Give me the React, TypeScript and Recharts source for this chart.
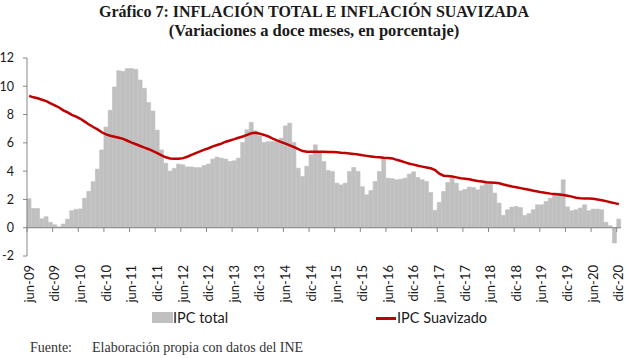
import React from "react";
import {
  ComposedChart,
  Bar,
  Line,
  XAxis,
  YAxis,
  ReferenceLine,
} from "recharts";

// meses en español y rango de la serie (jun-09 a dic-20)
const MONTHS = ["ene", "feb", "mar", "abr", "may", "jun", "jul", "ago", "sep", "oct", "nov", "dic"];
const START_YEAR = 2009;
const START_MONTH = 5; // jun
const N_MONTHS = 139;

const categories: string[] = Array.from({ length: N_MONTHS }, (_, i) => {
  const m = START_MONTH + i;
  const yy = String((START_YEAR + Math.floor(m / 12)) % 100).padStart(2, "0");
  return `${MONTHS[m % 12]}-${yy}`;
});

// IPC total, variación a doce meses (%)
const ipcTotal = [
  2.05, 1.36, 1.36, 0.63, 0.78, 0.38, 0.21, // 2009 jun-dic
  0.07, 0.26, 0.61, 1.2, 1.3, 1.33, 2.09, 2.57, 3.25, 4.14, 5.5, 7.12, // 2010
  8.3, 9.95, 11.1, 11.05, 11.25, 11.25, 11.2, 10.44, 9.86, 8.85, 8.25, 6.9, // 2011
  5.5, 4.56, 4.0, 4.2, 4.5, 4.45, 4.3, 4.3, 4.25, 4.25, 4.4, 4.5, // 2012
  4.85, 4.99, 4.92, 4.85, 4.68, 4.73, 4.92, 6.02, 6.92, 7.45, 6.85, 6.49, // 2013
  6.02, 6.09, 6.09, 6.09, 6.33, 7.2, 7.39, 6.02, 4.21, 3.62, 4.35, 5.15, // 2014
  5.86, 5.34, 4.68, 4.05, 3.98, 3.15, 3.03, 3.15, 3.98, 4.26, 3.98, 2.9, // 2015
  2.33, 2.63, 3.27, 3.98, 4.95, 3.5, 3.47, 3.39, 3.43, 3.5, 3.79, 3.95, // 2016
  3.55, 3.39, 3.27, 2.49, 1.22, 1.79, 2.56, 3.2, 3.5, 3.15, 2.61, 2.7, // 2017
  2.87, 2.84, 2.68, 2.96, 3.15, 3.15, 2.45, 1.74, 0.87, 1.27, 1.46, 1.5, // 2018
  1.42, 0.86, 1.0, 1.27, 1.62, 1.62, 1.86, 2.09, 2.4, 2.45, 3.39, 1.47, // 2019
  1.2, 1.27, 1.39, 1.62, 1.2, 1.32, 1.32, 1.27, 0.38, 0.14, -1.08, 0.61, // 2020
];

// IPC suavizado (%)
const ipcSuavizado = [
  9.32, 9.22, 9.15, 9.05, 8.95, 8.8, 8.65, // 2009 jun-dic
  8.5, 8.3, 8.15, 7.98, 7.85, 7.7, 7.5, 7.3, 7.12, 6.95, 6.75, 6.6, // 2010
  6.5, 6.43, 6.36, 6.28, 6.15, 6.02, 5.9, 5.78, 5.66, 5.55, 5.42, 5.28, // 2011
  5.12, 4.98, 4.9, 4.88, 4.87, 4.92, 5.02, 5.15, 5.28, 5.4, 5.52, 5.62, // 2012
  5.75, 5.85, 5.95, 6.08, 6.17, 6.26, 6.36, 6.45, 6.56, 6.68, 6.72, 6.65, // 2013
  6.56, 6.45, 6.3, 6.18, 6.05, 5.95, 5.82, 5.7, 5.55, 5.42, 5.38, 5.38, // 2014
  5.38, 5.38, 5.37, 5.36, 5.35, 5.33, 5.3, 5.28, 5.25, 5.22, 5.17, 5.12, // 2015
  5.08, 5.04, 5.0, 4.98, 4.95, 4.93, 4.9, 4.8, 4.72, 4.62, 4.52, 4.46, // 2016
  4.38, 4.32, 4.26, 4.2, 4.08, 3.82, 3.68, 3.66, 3.62, 3.56, 3.5, 3.46, // 2017
  3.42, 3.36, 3.3, 3.26, 3.22, 3.2, 3.18, 3.14, 3.06, 2.98, 2.91, 2.86, // 2018
  2.8, 2.74, 2.68, 2.62, 2.56, 2.5, 2.45, 2.41, 2.38, 2.35, 2.32, 2.26, // 2019
  2.2, 2.12, 2.08, 2.07, 2.07, 2.05, 2.0, 1.94, 1.88, 1.8, 1.74, 1.67, // 2020
];

const yTicks = [-2, 0, 2, 4, 6, 8, 10, 12];
const tickCats = categories.filter((_, i) => i % 6 === 0);

const data = categories.map((mes, i) => ({
  mes,
  total: ipcTotal[i],
  suav: ipcSuavizado[i],
}));

const AXIS = "#868686";
const TEXT = "#1a1a1a";
const GRAY = "#C0C0C0";
const RED = "#C00000";
const SANS = "Lato, 'Open Sans', sans-serif";
const SERIF = "'Liberation Serif', 'DejaVu Serif', serif";

function MonthTick(props: any) {
  const { x, y, payload } = props;
  return (
    <text
      x={x}
      y={y}
      transform={`rotate(-90, ${x}, ${y})`}
      textAnchor="end"
      dy="0.35em"
      fill={TEXT}
      fontSize={13}
      fontFamily={SANS}
    >
      {payload.value}
    </text>
  );
}

const titleStyle: React.CSSProperties = {
  position: "absolute",
  width: 628,
  textAlign: "center",
  fontFamily: SERIF,
  fontWeight: 700,
  lineHeight: "18px",
  color: TEXT,
};

const legendText: React.CSSProperties = {
  position: "absolute",
  top: 309,
  fontFamily: SANS,
  fontSize: 14.5,
  lineHeight: "18px",
  color: TEXT,
};

const sourceText: React.CSSProperties = {
  position: "absolute",
  top: 339,
  fontFamily: SERIF,
  fontSize: 14,
  lineHeight: "17px",
  color: "#333",
};

export default function App() {
  return (
    <div
      style={{
        position: "fixed",
        left: 0,
        top: 0,
        width: 628,
        height: 359,
        background: "#fff",
        overflow: "hidden",
      }}
    >
      <div style={{ ...titleStyle, top: 3, fontSize: 16 }}>
        Gráfico 7: INFLACIÓN TOTAL E INFLACIÓN SUAVIZADA
      </div>
      <div style={{ ...titleStyle, top: 22, fontSize: 16.5 }}>
        (Variaciones a doce meses, en porcentaje)
      </div>

      <ComposedChart
        width={628}
        height={359}
        data={data}
        margin={{ top: 58, right: 7, bottom: 58, left: 0 }}
        barCategoryGap={0}
        barGap={0}
        style={{ position: "absolute", left: 0, top: 0 }}
      >
        <XAxis
          dataKey="mes"
          interval={5}
          axisLine={false}
          tickLine={false}
          tickSize={6}
          tickMargin={3}
          height={45}
          tick={<MonthTick />}
        />
        <YAxis
          type="number"
          domain={[-2, 12]}
          ticks={yTicks}
          interval={0}
          width={27}
          axisLine={{ stroke: AXIS }}
          tickLine={{ stroke: AXIS }}
          tickSize={4}
          tickMargin={9}
          tick={{ fill: TEXT, fontSize: 12.5, fontFamily: SANS }}
        />
        <Bar
          dataKey="total"
          fill={GRAY}
          stroke={GRAY}
          strokeWidth={0.6}
          isAnimationActive={false}
        />
        <ReferenceLine y={0} stroke={AXIS} strokeWidth={1} />
        {tickCats.map((c) => (
          <ReferenceLine
            key={c}
            position="start"
            segment={[
              { x: c, y: 0 },
              { x: c, y: -0.3 },
            ]}
            stroke={AXIS}
            strokeWidth={1}
          />
        ))}
        <Line
          type="linear"
          dataKey="suav"
          stroke={RED}
          strokeWidth={2.5}
          dot={false}
          isAnimationActive={false}
        />
      </ComposedChart>

      {/* leyenda */}
      <div style={{ position: "absolute", left: 152, top: 312, width: 21, height: 11, background: GRAY }} />
      <div style={{ ...legendText, left: 173 }}>IPC total</div>
      <div style={{ position: "absolute", left: 376, top: 317, width: 20, height: 2.5, background: RED }} />
      <div style={{ ...legendText, left: 397 }}>IPC Suavizado</div>

      {/* fuente */}
      <div style={{ ...sourceText, left: 30 }}>Fuente:</div>
      <div style={{ ...sourceText, left: 92 }}>Elaboración propia con datos del INE</div>
    </div>
  );
}
